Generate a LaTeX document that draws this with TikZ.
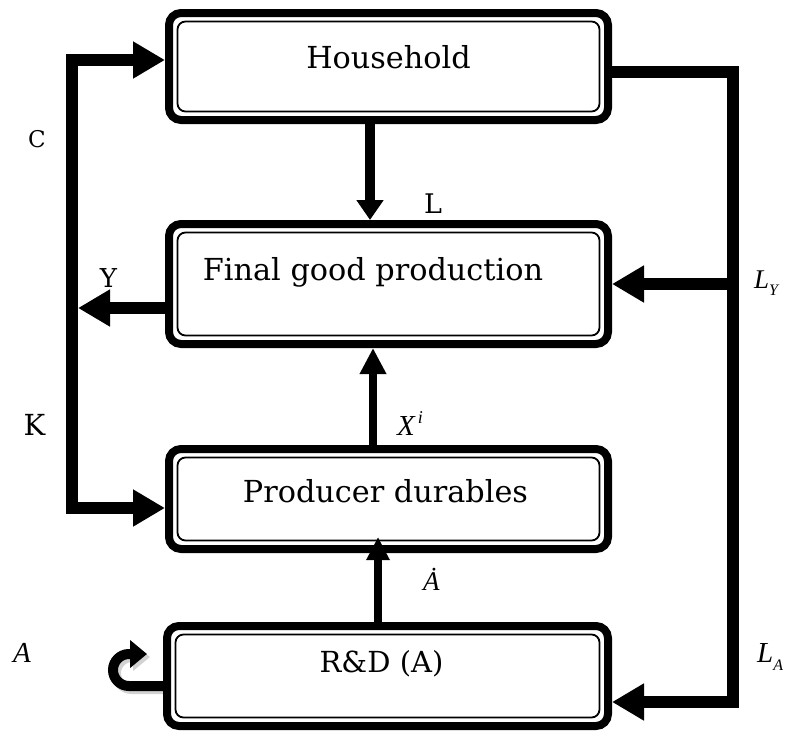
\documentclass[tikz,border=0pt]{standalone}
\usepackage{fontspec}
\setmainfont{DejaVu Serif}
\newfontfamily\tms{Liberation Serif}
\usetikzlibrary{arrows.meta,calc}
\begin{document}
\begin{tikzpicture}[x=1pt,y=-1pt,
  box/.style={draw, line width=8pt, rounded corners=12pt, inner sep=0pt},
  innerbox/.style={line width=1.8pt, rounded corners=8pt},
  boxtext/.style={anchor=base, inner sep=0pt, font=\fontsize{30.3}{35}\selectfont},
  lab/.style={anchor=base, inner sep=0pt},
  itlab/.style={anchor=base west, inner sep=0pt, font=\tms\itshape\fontsize{29}{34}\selectfont},
  big/.style={line width=12pt, -{Triangle[length=32pt,width=35pt]}},
  arrL/.style={line width=10pt, -{Triangle[length=20pt,width=26pt]}},
  arrX/.style={line width=8pt, -{Triangle[length=26pt,width=25pt]}},
  arrA/.style={line width=8pt, -{Triangle[length=23pt,width=22pt]}},
  curl/.style={line width=10pt, -{Triangle[length=17pt,width=27pt]}}
]
\useasboundingbox (0,0) rectangle (786,734);

% coordinates
\coordinate (cL) at (370,0);
\coordinate (cX) at (373,0);
\coordinate (cA) at (378,0);
\coordinate (lx) at (72,0);
\coordinate (ytop) at (0,60);
\coordinate (ybot) at (0,508);
\coordinate (yY) at (0,308);
\coordinate (rx) at (733,0);
\coordinate (yh) at (0,72);
\coordinate (yly) at (0,284);
\coordinate (yla) at (0,702);
\coordinate (cu) at (0,686);

% shadow of the curled arrow
\draw[gray!35, curl] (166,689) -- ++(-34,0) arc[start angle=90,end angle=270,radius=16] -- ++(18,0);

% boxes
\node[box, minimum width=439pt, minimum height=107pt] (hh) at (388.5,66.5) {};
\node[box, minimum width=439pt, minimum height=120pt] (fg) at (388.5,284) {};
\node[box, minimum width=439pt, minimum height=100pt] (pd) at (388.5,499) {};
\node[box, minimum width=441pt, minimum height=100pt] (rd) at (387.5,676) {};
\foreach \n in {hh,fg,pd,rd}
  \draw[innerbox] ([xshift=12.5pt,yshift=-12.5pt]\n.north west) rectangle ([xshift=-12.5pt,yshift=12.5pt]\n.south east);

\node[boxtext] (hht) at (388.5,68) {Household};
\node[boxtext] (fgt) at (373,280) {Final good production};
\node[boxtext] (pdt) at (385.5,502) {Producer durables};
\node[boxtext, font=\fontsize{29}{34}\selectfont] (rdt) at (381.5,672) {R\&D (A)};

% connectors
\draw[arrL] (hh.south -| cL) -- (fg.north -| cL);
\draw[arrX] (pd.north -| cX) -- (fg.south -| cX);
\draw[arrA] (rd.north -| cA) -- ($(pd.south -| cA)+(0,-16)$);
\draw[line width=12pt, {Triangle[length=32pt,width=35pt]}-{Triangle[length=32pt,width=35pt]}]
  (hh.west |- ytop) -- (lx |- ytop) -- (lx |- ybot) -- (pd.west |- ybot);
\draw[big] (fg.west |- yY) -- ($(lx |- yY)+(6,0)$);
\draw[line width=12pt] (hh.east |- yh) -- (rx |- yh) -- (rx |- yla) -- ($(rd.east |- yla)+(30,0)$);
\draw[big] (rx |- yla) -- (rd.east |- yla);
\draw[big] (rx |- yly) -- (fg.east |- yly);
\draw[curl] (rd.west |- cu) -- ++(-34,0) arc[start angle=90,end angle=270,radius=16] -- ++(18,0);

% labels
\node[lab, font=\fontsize{23}{28}\selectfont] (lC) at (37,147) {C};
\node[lab, font=\fontsize{29}{34}\selectfont] (lK) at (34.5,435) {K};
\node[lab, font=\fontsize{26}{30}\selectfont] (lY) at (108.5,287) {Y};
\node[lab, font=\fontsize{27}{32}\selectfont] (lL) at (433,213) {L};
\node[itlab] (lA) at (13,662) {A};
\node[itlab] (lLA) at (757,662) {L\raisebox{-8pt}{\fontsize{16}{18}\selectfont A}};
\node[itlab, font=\tms\itshape\fontsize{27}{32}\selectfont] (lLY) at (754,288) {L\raisebox{-7pt}{\fontsize{16}{18}\selectfont Y}};
\node[itlab] (lX) at (397,435) {X\raisebox{12pt}{\fontsize{18}{20}\selectfont\,i}};
\node[itlab, font=\tms\itshape\fontsize{27}{32}\selectfont] (lAd) at (423,590) {\.{A}};
\end{tikzpicture}
\end{document}
